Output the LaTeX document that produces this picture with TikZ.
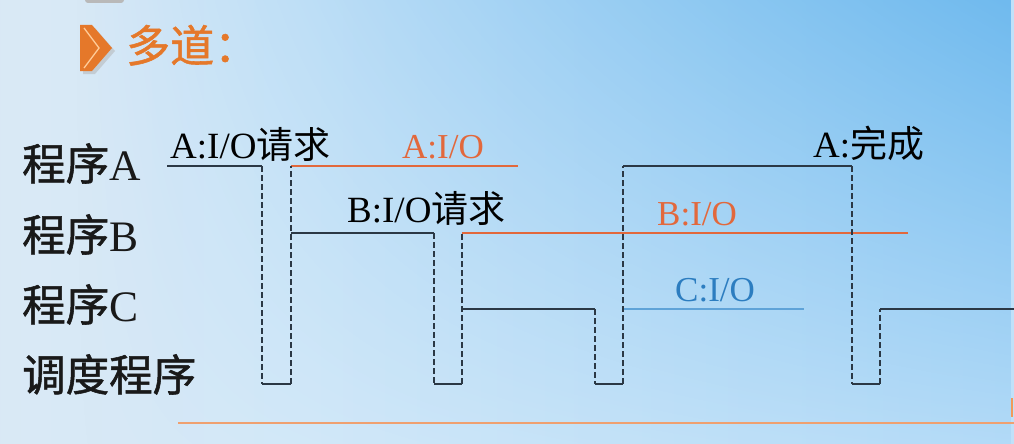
\documentclass[tikz,border=0pt]{standalone}
\usepackage{fontspec}
\setmainfont{Liberation Serif}
\newfontfamily\cjk{Noto Sans CJK SC}
\newfontfamily\cjkh{Noto Sans CJK SC}[FakeBold=1.2]
\usetikzlibrary{shadings,fadings}
\definecolor{bgL}{HTML}{DEE6EF}
\definecolor{bgM}{HTML}{D6EAF9}
\definecolor{bgM2}{HTML}{BEE0F9}
\definecolor{bgR}{HTML}{9CD2F6}
\definecolor{bgTR}{HTML}{5FB2EC}
\definecolor{wave}{HTML}{2B3845}
\definecolor{ioorange}{HTML}{E2683C}
\definecolor{ioblue}{HTML}{2C7DC0}
\definecolor{iobluel}{HTML}{5FA3D8}
\definecolor{axisor}{HTML}{EFA070}
\definecolor{titleor}{HTML}{E5782A}
\pgfdeclarehorizontalshading{bgsweep}{100bp}{color(0bp)=(bgL); color(40bp)=(bgM);
  color(78bp)=(bgM2); color(100bp)=(bgR)}
\tikzfading[name=cornerglow, upper left=transparent!100, upper right=transparent!10,
  lower left=transparent!100, lower right=transparent!85]
\tikzset{
  run/.style={draw=wave, line width=2.6pt, line join=round},
  switch/.style={draw=wave, line width=2pt, dash pattern=on 6pt off 3pt},
  ioline/.style={line width=2.1pt},
  lbl/.style={inner sep=0pt, anchor=base west, font=\fontsize{37}{40}\selectfont},
  iolbl/.style={inner sep=0pt, anchor=base west, font=\fontsize{35}{40}\selectfont},
  rowlbl/.style={inner sep=0pt, anchor=base west, font=\fontsize{43.5}{46}\selectfont, text=black!90},
}
\begin{document}
\begin{tikzpicture}[x=1pt, y=-1pt]
\useasboundingbox (0,0) rectangle (1014,444);
% background
\shade[shading=bgsweep] (0,0) rectangle (1014,444);
\fill[bgTR, path fading=cornerglow] (0,0) rectangle (1014,444);
\fill[gray!55, rounded corners=3pt] (85,-8) rectangle (124,3);

% title marker and heading
\fill[gray!60, opacity=0.5] (83,28) -- (95,28) -- (115,51) -- (95,74) -- (83,74) -- cycle;
\fill[titleor] (80,25) -- (92,25) -- (112,48) -- (92,71) -- (80,71) -- cycle;
\draw[orange!40!white, line width=1.3pt] (84,28) -- (99,48) -- (84,68);
\node[inner sep=0pt, anchor=base west, text=titleor, font=\cjkh\fontsize{44}{46}\selectfont]
  (title) at (126,62) {多道：};

% row labels
\node[rowlbl] (rA) at (22,180) {{\cjkh 程序}A};
\node[rowlbl] (rB) at (22,251) {{\cjkh 程序}B};
\node[rowlbl] (rC) at (22,321) {{\cjkh 程序}C};
\node[rowlbl] (rS) at (22,391) {\cjkh 调度程序};

% corner points of the waveform
\coordinate (a0) at (167,166);
\coordinate (a1) at (262,166);
\coordinate (s1l) at (262,384);
\coordinate (s1r) at (291,384);
\coordinate (b0) at (291,233);
\coordinate (aio0) at (291,166);
\coordinate (aio1) at (518,166);
\coordinate (b1) at (434,233);
\coordinate (s2l) at (434,384);
\coordinate (s2r) at (462,384);
\coordinate (bio0) at (462,233);
\coordinate (bio1) at (908,233);
\coordinate (c0) at (462,309);
\coordinate (c1) at (595,309);
\coordinate (s3l) at (595,384);
\coordinate (s3r) at (623,384);
\coordinate (a2) at (623,166);
\coordinate (cio0) at (623,309);
\coordinate (cio1) at (804,309);
\coordinate (a3) at (852,166);
\coordinate (s4l) at (852,384);
\coordinate (s4r) at (880,384);
\coordinate (c2) at (880,309);
\coordinate (c3) at (1016,309);

% I/O intervals
\draw[ioline, draw=ioorange] (aio0) -- (aio1);
\draw[ioline, draw=ioorange] (bio0) -- (bio1);
\draw[line width=1.7pt, draw=iobluel] (cio0) -- (cio1);

% CPU running segments
\draw[run] (a0) -- (a1);
\draw[run] (b0) -- (b1);
\draw[run] (c0) -- (c1);
\draw[run] (a2) -- (a3);
\draw[run] (c2) -- (c3);

% scheduler slots
\draw[run] (s1l) -- (s1r);
\draw[run] (s2l) -- (s2r);
\draw[run] (s3l) -- (s3r);
\draw[run] (s4l) -- (s4r);

% context switches
\draw[switch] (a1) -- (s1l);
\draw[switch] (s1r) -- (aio0);
\draw[switch] (b1) -- (s2l);
\draw[switch] (s2r) -- (bio0);
\draw[switch] (c1) -- (s3l);
\draw[switch] (s3r) -- (a2);
\draw[switch] (a3) -- (s4l);
\draw[switch] (s4r) -- (c2);

% event labels
\node[lbl] (lA) at (170,158) {A:I/O{\cjk 请求}};
\node[iolbl, text=ioorange] (lAio) at (402,158) {A:I/O};
\node[lbl] (lB) at (347,222) {B:I/O{\cjk 请求}};
\node[iolbl, text=ioorange] (lBio) at (657,225) {B:I/O};
\node[lbl] (lAd) at (813,157) {A:{\cjk 完成}};
\node[iolbl, text=ioblue] (lCio) at (675,301) {C:I/O};

% time axis
\coordinate (t0) at (178,423);
\coordinate (t1) at (1016,423);
\draw[axisor, line width=2pt] (t0) -- (t1);
\draw[axisor!80!orange, line width=2.5pt] (1012,398) -- (1012,417);
\end{tikzpicture}
\end{document}
